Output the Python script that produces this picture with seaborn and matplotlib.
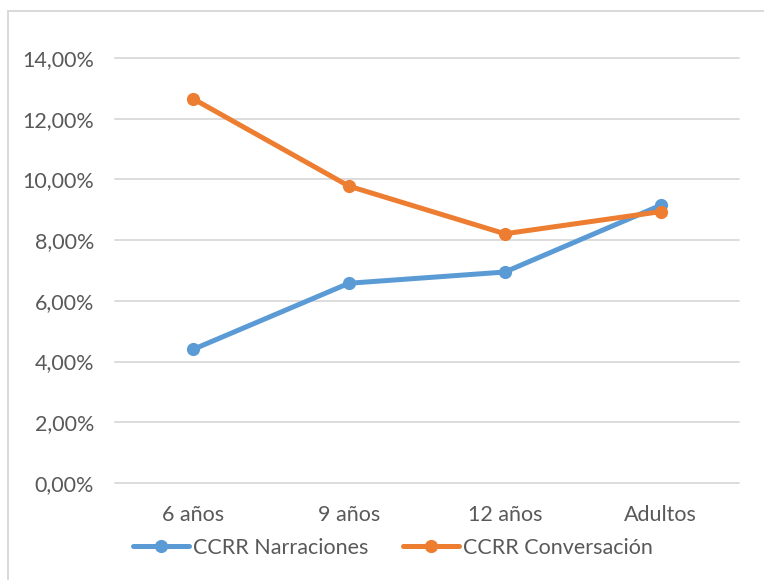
""" Line chart of CCRR percentages by age group
"""

import matplotlib.pyplot as plt
import matplotlib.ticker as mticker
import pandas as pd
import seaborn as sns
from matplotlib.patches import Rectangle

groups = ["6 años", "9 años", "12 años", "Adultos"]
narraciones = [4.40, 6.58, 6.95, 9.15]
conversacion = [12.66, 9.78, 8.21, 8.94]
series_names = ["CCRR Narraciones", "CCRR Conversación"]
y_ticks = [0, 2, 4, 6, 8, 10, 12, 14]

df = pd.DataFrame(
    {
        "grupo": groups * 2,
        "pos": list(range(len(groups))) * 2,
        "valor": narraciones + conversacion,
        "serie": [series_names[0]] * len(groups) + [series_names[1]] * len(groups),
    }
)

sns.set_theme(style="white")
plt.rcParams["font.family"] = ["Lato", "DejaVu Sans"]

fig = plt.figure(figsize=(7.64, 5.80), dpi=100)
ax = fig.add_axes([0.1505, 0.1672, 0.8165, 0.7328])

# chart frame, as in the spreadsheet
fig.patches.append(
    Rectangle((7.5 / 764, -0.01), 1.0, 1 - 10.5 / 580 + 0.01, transform=fig.transFigure,
              fill=False, edgecolor="#d9d9d9", linewidth=1.4)
)

sns.lineplot(
    data=df, x="pos", y="valor", hue="serie",
    palette=["#5b9bd5", "#ed7d31"], marker="o", markersize=9.5,
    markeredgewidth=0, linewidth=3.6, ax=ax, legend=True,
)

ax.set_xlim(-0.5, len(groups) - 0.5)
ax.set_ylim(0, 14)
ax.set_yticks(y_ticks)
ax.yaxis.set_major_formatter(
    mticker.FuncFormatter(lambda v, _: f"{v:.2f}%".replace(".", ","))
)
ax.set_xticks(range(len(groups)))
ax.set_xticklabels(groups)
ax.grid(axis="y", color="#d9d9d9", linewidth=1.3)
for gl in ax.get_ygridlines():
    gl.set_clip_on(False)
ax.set_axisbelow(True)
for s in ax.spines.values():
    s.set_visible(False)
ax.tick_params(axis="both", length=0, labelsize=15.5, colors="#595959")
ax.tick_params(axis="y", pad=15)
ax.tick_params(axis="x", pad=16)
ax.set_xlabel("")
ax.set_ylabel("")

handles, labels = ax.get_legend_handles_labels()
leg = ax.legend(
    handles, labels, loc="center", bbox_to_anchor=(393 / 764, 1 - 548 / 580),
    bbox_transform=fig.transFigure,
    ncol=2, frameon=False, fontsize=15.5, handlelength=2.6, columnspacing=1.6,
    handletextpad=0.2,
)
for t in leg.get_texts():
    t.set_color("#595959")

fig.savefig("out.png", dpi=100, facecolor="white")
